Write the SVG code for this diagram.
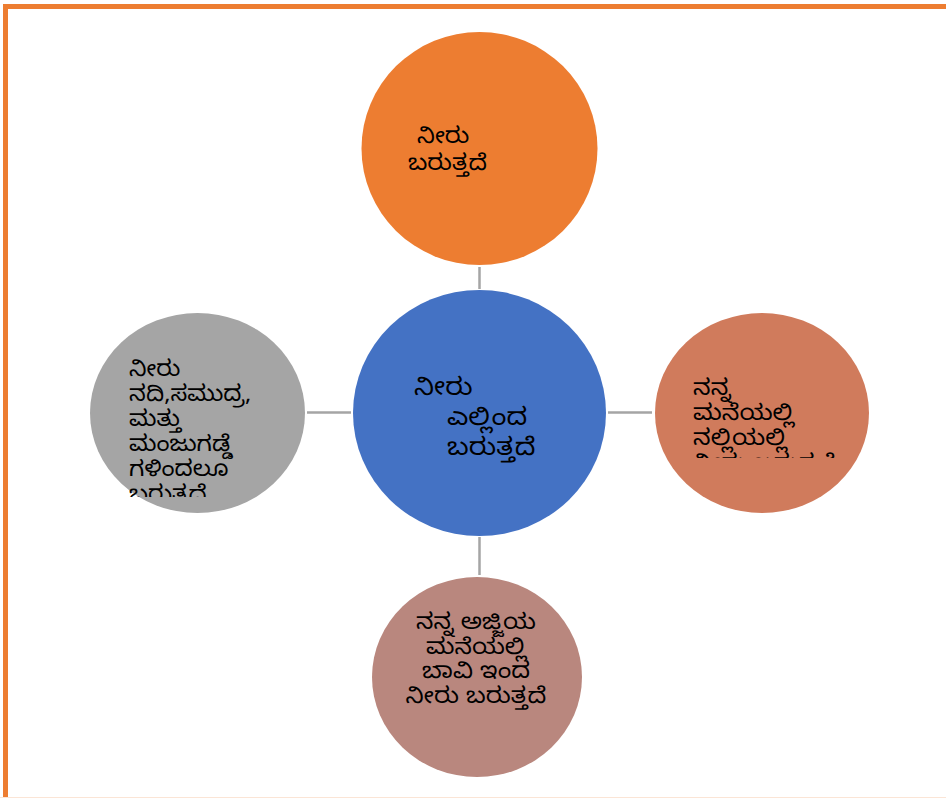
<svg xmlns="http://www.w3.org/2000/svg" width="946" height="798" viewBox="0 0 946 798">
<style>
.t{font-family:"Noto Sans Kannada","Noto Sans","DejaVu Sans",sans-serif;fill:#000;}
.conn{stroke:#A5A5A5;stroke-width:2.5;fill:none;}
</style>
<defs>
<clipPath id="clipL"><rect x="90" y="313" width="215" height="184"/></clipPath>
<clipPath id="clipR"><rect x="655" y="313" width="214" height="145"/></clipPath>
</defs>
<rect x="0" y="0" width="946" height="798" fill="#fff"/>
<path d="M5.5 798 V6.5 H946" fill="none" stroke="#ED7D31" stroke-width="5"/>
<line x1="0" y1="797.5" x2="946" y2="797.5" stroke="#FBE5D6" stroke-width="1"/>
<g id="connectors">
<line class="conn" x1="479.5" y1="267" x2="479.5" y2="289"/>
<line class="conn" x1="307" y1="412.5" x2="351" y2="412.5"/>
<line class="conn" x1="608" y1="412.5" x2="652" y2="412.5"/>
<line class="conn" x1="479.5" y1="537" x2="479.5" y2="575"/>
</g>
<g id="top">
<ellipse cx="479.5" cy="148.5" rx="118" ry="116.5" fill="#ED7D31"/>
<text class="t" font-size="22" transform="translate(417 143) scale(1.1 1)" x="0" y="0">ನೀರು</text>
<text class="t" font-size="22" transform="translate(408 170) scale(1.1 1)" x="0" y="0">ಬರುತ್ತದೆ</text>
</g>
<g id="center">
<ellipse cx="479.5" cy="413" rx="126.5" ry="123" fill="#4472C4"/>
<text class="t" font-size="24" transform="translate(414 395) scale(1.13 1)" x="0" y="0">ನೀರು</text>
<text class="t" font-size="24" transform="translate(447 425) scale(1.13 1)" x="0" y="0">ಎಲ್ಲಿಂದ</text>
<text class="t" font-size="24" transform="translate(447 455) scale(1.13 1)" x="0" y="0">ಬರುತ್ತದೆ</text>
</g>
<g id="left">
<ellipse cx="197.5" cy="413" rx="107.5" ry="100" fill="#A5A5A5"/>
<g clip-path="url(#clipL)">
<text class="t" font-size="22" transform="translate(129 0) scale(1.08 1)"><tspan x="0" y="376">ನೀರು</tspan><tspan x="0" y="401">ನದಿ,ಸಮುದ್ರ,</tspan><tspan x="0" y="426">ಮತ್ತು</tspan><tspan x="0" y="451">ಮಂಜುಗಡ್ಡೆ</tspan><tspan x="0" y="476">ಗಳಿಂದಲೂ</tspan><tspan x="0" y="501">ಬರುತ್ತದೆ</tspan></text>
</g>
</g>
<g id="right">
<ellipse cx="762" cy="413" rx="107" ry="100" fill="#D07B5C"/>
<g clip-path="url(#clipR)">
<text class="t" font-size="22" transform="translate(693 0) scale(1.13 1)"><tspan x="0" y="395">ನನ್ನ</tspan><tspan x="0" y="420">ಮನೆಯಲ್ಲಿ</tspan><tspan x="0" y="445">ನಲ್ಲಿಯಲ್ಲಿ</tspan><tspan x="0" y="470">ನೀರು ಬರುತ್ತದೆ</tspan></text>
</g>
</g>
<g id="bottom">
<ellipse cx="477" cy="677" rx="105" ry="100" fill="#B9877E"/>
<text class="t" font-size="22" text-anchor="middle" transform="translate(476 0) scale(1.12 1)"><tspan x="0" y="629">ನನ್ನ ಅಜ್ಜಿಯ</tspan><tspan x="0" y="654">ಮನೆಯಲ್ಲಿ</tspan><tspan x="0" y="678">ಬಾವಿ ಇಂದ</tspan><tspan x="0" y="703">ನೀರು ಬರುತ್ತದೆ</tspan></text>
</g>
</svg>
